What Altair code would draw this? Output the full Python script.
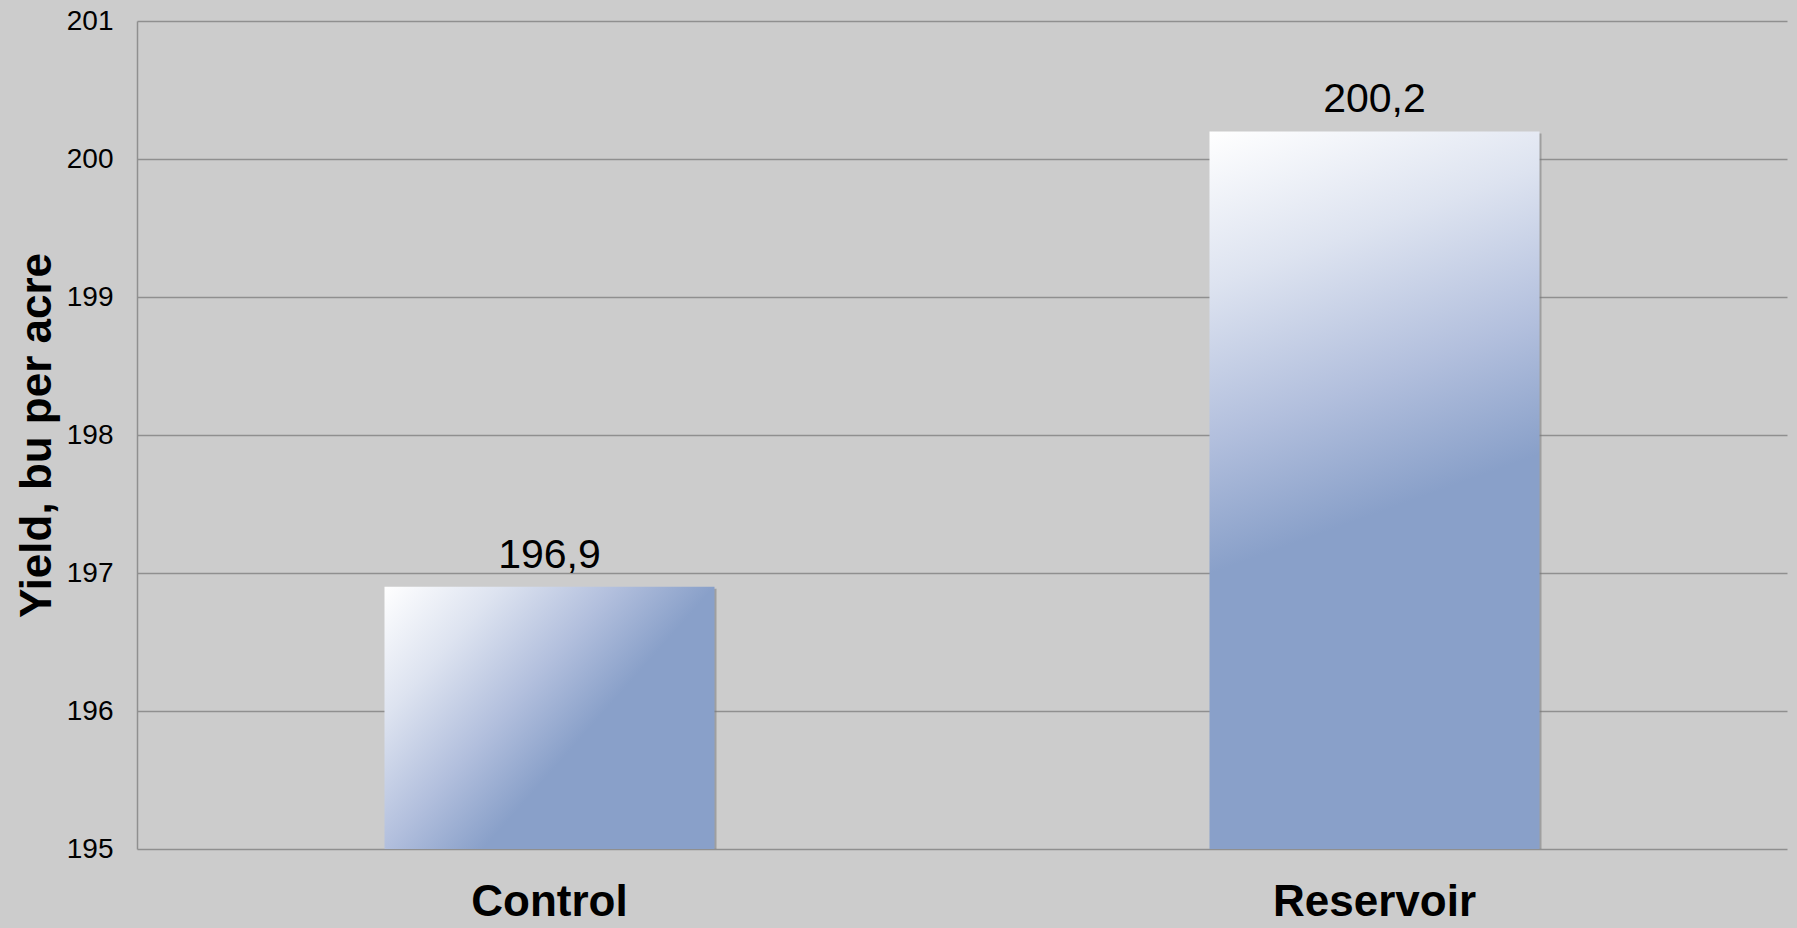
import altair as alt
import pandas as pd

# Yield by treatment (bu per acre)
treatments = ["Control", "Reservoir"]
yields = [196.9, 200.2]

# Axis range and ticks
y_min, y_max = 195, 201
y_ticks = [195, 196, 197, 198, 199, 200, 201]

BLUE = "#89a0c9"
GRID = "#8f8f8f"

df = pd.DataFrame({"treatment": treatments, "yield": yields})

x_enc = alt.X(
    "treatment:N",
    sort=treatments,
    scale=alt.Scale(paddingInner=0.6, paddingOuter=0.3),
    axis=alt.Axis(
        title=None,
        labelAngle=0,
        labelFont="Liberation Sans, Arial, sans-serif",
        labelFontWeight="bold",
        labelFontSize=44,
        labelColor="#000000",
        labelBaseline="alphabetic",
        labelPadding=66,
        labelLimit=0,
        ticks=False,
        domain=False,
        grid=False,
    ),
)

y_enc = alt.Y(
    "yield:Q",
    scale=alt.Scale(domain=[y_min, y_max], zero=False, nice=False),
    axis=alt.Axis(
        title="Yield, bu per acre",
        titleFont="Liberation Sans, Arial, sans-serif",
        titleFontWeight="bold",
        titleFontSize=44,
        titleColor="#000000",
        titleAngle=270,
        titleAlign="center",
        titleBaseline="alphabetic",
        titleX=-87,
        titleY=414,
        values=y_ticks,
        labelFont="Liberation Sans, Arial, sans-serif",
        labelFontSize=28,
        labelColor="#000000",
        labelPadding=24,
        labelBaseline="middle",
        ticks=False,
        domain=True,
        domainColor=GRID,
        domainWidth=1.5,
        grid=True,
        gridColor=GRID,
        gridWidth=1.5,
    ),
)

base = alt.Chart(df).encode(x=x_enc, y=y_enc, y2=alt.Y2Datum(y_min))

# soft drop shadow behind each bar
shadow = base.mark_bar(color="#7a7a7a", opacity=0.55, xOffset=2, yOffset=2)


def grad(x2, y2):
    return alt.Gradient(
        gradient="linear",
        x1=0, y1=0, x2=x2, y2=y2,
        stops=[
            alt.GradientStop(color="#ffffff", offset=0),
            alt.GradientStop(color="#dde3f0", offset=0.35),
            alt.GradientStop(color="#b2bfdd", offset=0.7),
            alt.GradientStop(color=BLUE, offset=1),
        ],
    )


bar_control = base.transform_filter(alt.datum.treatment == "Control").mark_bar(
    color=grad(0.67, 0.47)
)
bar_reservoir = base.transform_filter(alt.datum.treatment == "Reservoir").mark_bar(
    color=grad(0.10, 0.60)
)

labels = alt.Chart(df).transform_calculate(
    label="replace(format(datum.yield, '.1f'), '.', ',')"
).mark_text(
    font="Liberation Sans, Arial, sans-serif",
    fontSize=41,
    color="#000000",
    baseline="alphabetic",
    align="center",
    dy=-19,
).encode(x=x_enc, y=y_enc, text="label:N")

chart = (
    alt.layer(shadow, bar_control, bar_reservoir, labels)
    .properties(
        width=1650,
        height=828,
        background="#cccccc",
        autosize=alt.AutoSizeParams(type="none"),
        padding={"left": 137, "top": 21, "right": 10, "bottom": 79},
    )
    .configure_view(stroke=None)
)

chart.save("out.html", embed_options={"renderer": "svg", "actions": False})
